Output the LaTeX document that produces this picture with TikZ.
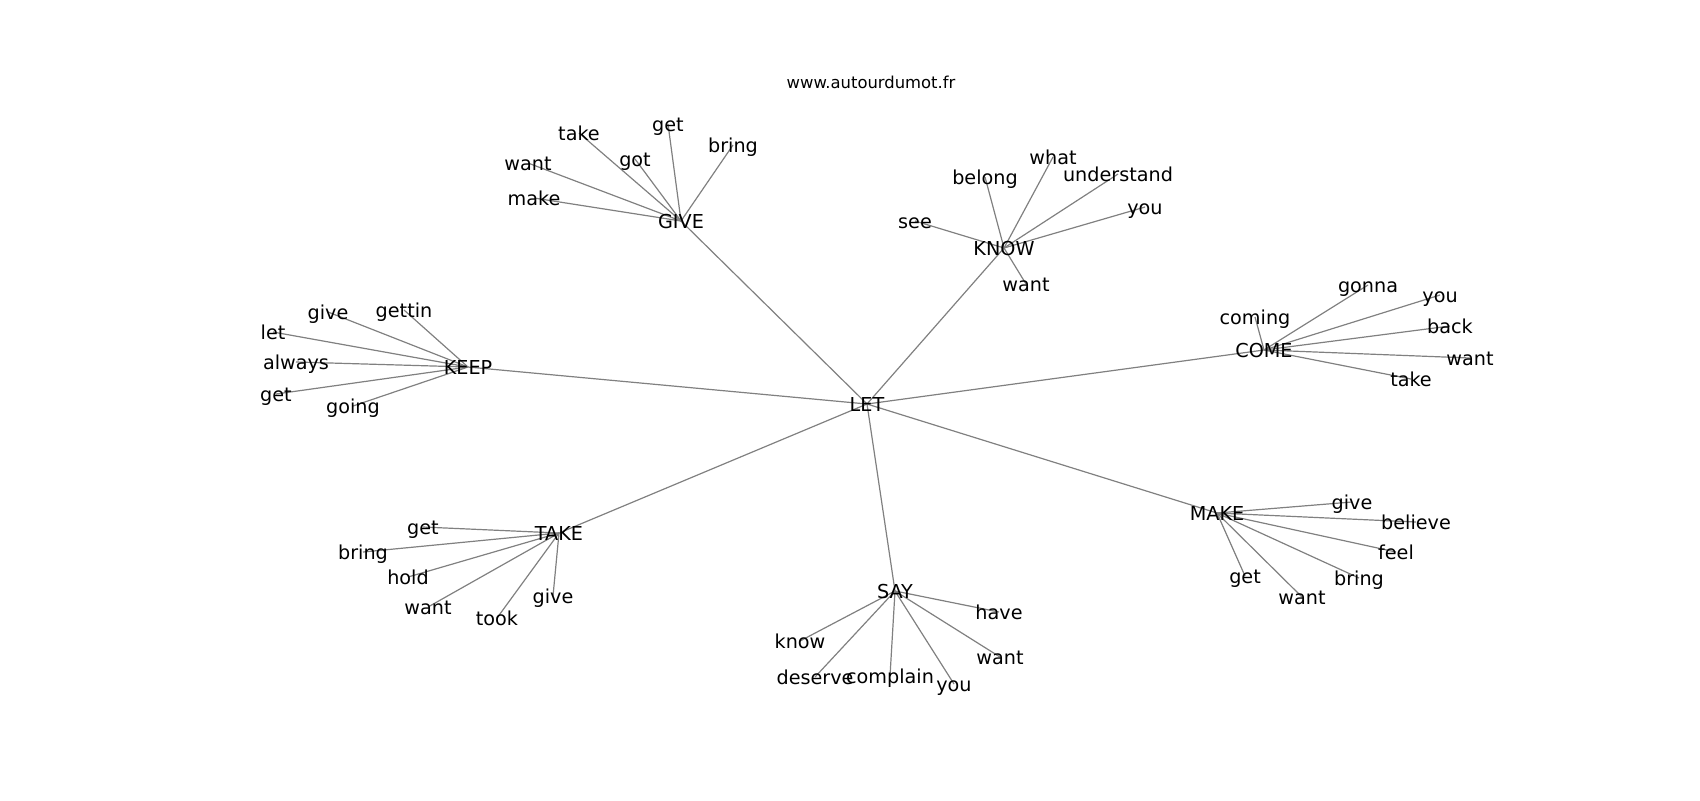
\documentclass[tikz,border=0pt]{standalone}
\usepackage{fontspec}
\setmainfont{DejaVu Sans}
\usetikzlibrary{backgrounds}
\begin{document}
\begin{tikzpicture}[x=0.5pt,y=-0.5pt,
  lbl/.style={font=\fontsize{9.6pt}{11pt}\selectfont, inner sep=0pt, text height=0.76em, text depth=0em},
  ttl/.style={font=\fontsize{8.2pt}{10pt}\selectfont, inner sep=0pt, text height=0.76em, text depth=0.1em},
  edge/.style={draw=gray, line width=0.6pt}]
\useasboundingbox (0,0) rectangle (1700,800);
\node[ttl] (title) at (871,82) {www.autourdumot.fr};
% hubs
\node[lbl] (LET) at (867,404) {LET};
\node[lbl] (GIVE) at (681,221) {GIVE};
\node[lbl] (KNOW) at (1004,248) {KNOW};
\node[lbl] (COME) at (1264,350) {COME};
\node[lbl] (MAKE) at (1217,513) {MAKE};
\node[lbl] (SAY) at (895,591) {SAY};
\node[lbl] (TAKE) at (559,533) {TAKE};
\node[lbl] (KEEP) at (468,367) {KEEP};
% GIVE
\node[lbl] (g1) at (668,124) {get};
\node[lbl] (g2) at (579,133) {take};
\node[lbl] (g3) at (635,159) {got};
\node[lbl] (g4) at (733,145) {bring};
\node[lbl] (g5) at (528,163) {want};
\node[lbl] (g6) at (534,198) {make};
% KNOW
\node[lbl] (k1) at (1053,157) {what};
\node[lbl] (k2) at (985,177) {belong};
\node[lbl] (k3) at (1118,174) {understand};
\node[lbl] (k4) at (1145,207) {you};
\node[lbl] (k5) at (915,221) {see};
\node[lbl] (k6) at (1026,284) {want};
% COME
\node[lbl] (c1) at (1368,285) {gonna};
\node[lbl] (c2) at (1440,295) {you};
\node[lbl] (c3) at (1255,317) {coming};
\node[lbl] (c4) at (1450,326) {back};
\node[lbl] (c5) at (1470,358) {want};
\node[lbl] (c6) at (1411,379) {take};
% MAKE
\node[lbl] (m1) at (1352,502) {give};
\node[lbl] (m2) at (1416,522) {believe};
\node[lbl] (m3) at (1396,552) {feel};
\node[lbl] (m4) at (1359,578) {bring};
\node[lbl] (m5) at (1245,576) {get};
\node[lbl] (m6) at (1302,597) {want};
% SAY
\node[lbl] (s1) at (999,612) {have};
\node[lbl] (s2) at (800,641) {know};
\node[lbl] (s3) at (1000,657) {want};
\node[lbl] (s4) at (815,677) {deserve};
\node[lbl] (s5) at (890,676) {complain};
\node[lbl] (s6) at (954,684) {you};
% TAKE
\node[lbl] (t1) at (423,527) {get};
\node[lbl] (t2) at (363,552) {bring};
\node[lbl] (t3) at (408,577) {hold};
\node[lbl] (t4) at (428,607) {want};
\node[lbl] (t5) at (497,618) {took};
\node[lbl] (t6) at (553,596) {give};
% KEEP
\node[lbl] (e1) at (328,312) {give};
\node[lbl] (e2) at (404,310) {gettin};
\node[lbl] (e3) at (273,332) {let};
\node[lbl] (e4) at (296,362) {always};
\node[lbl] (e5) at (276,394) {get};
\node[lbl] (e6) at (353,406) {going};
\begin{pgfonlayer}{background}
\foreach \h in {GIVE,KNOW,COME,MAKE,SAY,TAKE,KEEP}
  \draw[edge] (LET.center) -- (\h.center);
\foreach \p/\h in {g/GIVE,k/KNOW,c/COME,m/MAKE,s/SAY,t/TAKE,e/KEEP}
  \foreach \i in {1,...,6}
    \draw[edge] (\h.center) -- (\p\i.center);
\end{pgfonlayer}
\end{tikzpicture}
\end{document}
